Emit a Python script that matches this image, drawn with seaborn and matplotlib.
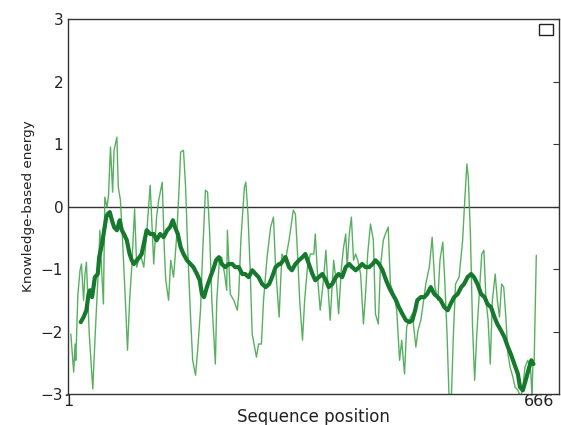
import pandas as pd
import matplotlib
matplotlib.use("Agg")
import matplotlib.pyplot as plt
from matplotlib.patches import Rectangle
import seaborn as sns

# window size 10 (thin line)
pos_w10 = [5, 9, 11, 12, 15, 18, 20, 23, 25, 27, 31, 35, 36, 39, 44, 46, 49, 51, 53, 56,
           58, 61, 64, 66, 70, 72, 75, 78, 82, 85, 88, 91, 95, 98, 103, 108, 112, 117, 122, 126,
           129, 134, 137, 139, 143, 146, 150, 154, 157, 160, 164, 167, 170, 174, 177, 181, 184, 188, 191, 195,
           198, 201, 204, 209, 211, 215, 218, 222, 225, 226, 230, 235, 240, 242, 245, 250, 252, 255, 258, 261,
           267, 270, 274, 277, 282, 287, 291, 294, 299, 301,
           303, 308, 313, 319, 322, 325, 328, 332, 335, 339, 343, 348, 350, 354, 357, 361, 365, 368, 371, 374,
           376, 380, 383, 387, 390, 393, 395, 398, 401, 404, 407, 410, 414, 418, 421, 424, 428, 432, 435, 439,
           442, 446, 449, 453, 456, 461, 465, 469, 472, 476, 479, 482, 487, 492, 495, 499, 503, 506, 511, 515,
           519, 523, 526, 530, 533, 536, 539, 542, 545, 548, 553, 558, 561, 564, 566, 569, 572, 575, 578, 581,
           585, 588, 591, 594, 597, 600, 604, 607, 610, 613, 616, 619, 622, 625, 629, 632, 636, 640, 643, 646,
           650, 654, 656, 657, 659, 662]
energy_w10 = [-2.04, -2.65, -2.20, -2.46, -1.40, -1.02, -0.92, -1.50, -1.08, -0.89, -2.04, -2.73, -2.92, -2.14, -0.97, -0.38, -1.13, -1.56, 0.15, -0.01,
              0.15, 0.95, 0.23, 0.90, 1.11, 0.31, 0.10, -0.54, -1.50, -2.30, -1.50, -0.97, -0.04, -0.97, -0.76, -0.97, -0.44, 0.34, -0.92, -0.17,
              0.10, 0.39, -0.70, -1.18, -1.50, -0.86, -1.13, -0.54, 0.10, 0.87, 0.90, 0.31, -0.70, -1.77, -2.46, -2.70, -2.30, -1.66, -0.76, 0.26,
              0.23, -0.44, -1.50, -2.52, -1.50, -0.81, -0.81, -1.08, -1.34, -0.38, -1.40, -1.50, -1.66, -1.40, -0.54, 0.31, 0.39, -0.12, -0.97, -2.04,
              -2.41, -2.20, -2.20, -1.50, -0.81, -0.33, -0.17, -0.97, -1.77, -1.24,
              -0.76, -0.86, -0.54, -0.06, -0.12, -0.76, -1.50, -2.14, -1.50, -0.97, -0.76, -0.76, -0.44, -1.24, -1.66, -1.24, -0.70, -1.29, -1.82, -1.24,
              -0.86, -1.24, -1.72, -0.97, -0.65, -0.44, -0.97, -0.44, -0.17, -0.86, -0.76, -0.86, -1.08, -1.88, -1.40, -0.76, -0.28, -0.54, -1.72, -1.88,
              -0.97, -0.54, -0.44, -0.33, -1.24, -1.40, -1.66, -2.46, -2.14, -2.68, -1.93, -1.82, -1.72, -2.25, -1.98, -1.82, -1.50, -1.24, -0.97, -0.49,
              -1.29, -1.50, -0.86, -0.57, -1.24, -2.04, -3.10, -3.10, -2.04, -1.24, -1.13, -0.54, 0.10, 0.68, 0.47, -0.44, -1.93, -2.78, -2.04, -1.50,
              -0.76, -0.70, -1.50, -1.82, -2.52, -1.50, -1.08, -1.50, -1.77, -1.24, -1.29, -1.77, -2.36, -2.57, -2.73, -2.89, -2.94, -3.05, -2.89, -2.57,
              -2.46, -2.62, -3.05, -2.57, -2.46, -0.78]

# window size 40 (thick line)
pos_w40 = [19, 23, 27, 30, 32, 35, 37, 39, 43, 45, 49, 52, 55, 57, 60, 63, 66, 70, 74, 77,
           80, 84, 88, 91, 94, 98, 102, 105, 109, 112, 117, 122, 126, 131, 136, 141, 145, 149, 152, 156,
           160, 164, 169, 174, 178, 183, 187, 190, 193, 197, 202, 207, 210, 214, 218, 223, 228, 233, 237, 242,
           247, 251, 256, 261, 266, 270, 275, 280, 285, 289, 294, 299,
           301, 308, 313, 317, 322, 327, 332, 336, 341, 346, 350, 355, 360, 365, 369, 374, 379, 383, 388, 393,
           398, 402, 407, 412, 416, 421, 426, 431, 435, 440, 445, 450, 454, 459, 464, 468, 473, 478, 483, 487,
           491, 494, 499, 504, 508, 513, 518, 523, 527, 532, 537, 541, 546, 551, 556, 560, 565, 570, 574, 579,
           584, 589, 593, 598, 603, 607, 612, 617, 622, 626, 631, 636, 639, 643, 647, 652, 655, 658]
energy_w40 = [-1.85, -1.77, -1.66, -1.40, -1.34, -1.45, -1.29, -1.13, -1.08, -0.81, -0.60, -0.38, -0.17, -0.12, -0.09, -0.22, -0.33, -0.38, -0.22, -0.38,
              -0.44, -0.54, -0.76, -0.86, -0.92, -0.86, -0.81, -0.76, -0.54, -0.38, -0.44, -0.44, -0.54, -0.44, -0.49, -0.38, -0.33, -0.22, -0.33, -0.44,
              -0.65, -0.76, -0.86, -0.92, -0.97, -1.08, -1.18, -1.40, -1.45, -1.29, -1.13, -0.97, -0.86, -0.81, -0.92, -0.97, -0.92, -0.92, -0.97, -0.97,
              -1.08, -1.08, -1.13, -1.02, -1.08, -1.13, -1.24, -1.29, -1.24, -1.13, -0.97, -0.92,
              -0.92, -0.81, -0.97, -1.02, -0.92, -0.86, -0.81, -0.76, -0.92, -1.08, -1.18, -1.13, -1.08, -1.18, -1.29, -1.24, -1.13, -1.08, -1.13, -0.97,
              -0.92, -0.97, -1.02, -0.97, -0.92, -0.97, -0.97, -0.92, -0.86, -0.92, -1.02, -1.18, -1.29, -1.40, -1.50, -1.61, -1.72, -1.82, -1.85, -1.82,
              -1.66, -1.50, -1.45, -1.45, -1.40, -1.29, -1.40, -1.45, -1.50, -1.61, -1.66, -1.56, -1.45, -1.40, -1.29, -1.24, -1.13, -1.08, -1.13, -1.24,
              -1.40, -1.45, -1.56, -1.61, -1.77, -1.88, -1.98, -2.09, -2.25, -2.36, -2.52, -2.68, -2.89, -2.94, -2.78, -2.57, -2.46, -2.52]

x_ticks = [1, 666]
y_ticks = [-3, -2, -1, 0, 1, 2, 3]

thin = pd.DataFrame({"pos": pos_w10, "energy": energy_w10})
thick = pd.DataFrame({"pos": pos_w40, "energy": energy_w40})

sns.set_style("white")
fig = plt.figure(figsize=(5.61, 4.25), dpi=100)
ax = fig.add_axes([0.1212, 0.0729, 0.8752, 0.8824])

ax.axhline(0, color="#333333", lw=1.0, zorder=1)
sns.lineplot(data=thin, x="pos", y="energy", ax=ax, estimator=None,
             color="#45a84f", lw=1.0, alpha=0.9, zorder=2)
sns.lineplot(data=thick, x="pos", y="energy", ax=ax, estimator=None,
             color="#17792d", lw=3.0, zorder=3)

ax.set_xlim(1, 694)
ax.set_ylim(-3, 3)
ax.set_xticks(x_ticks)
ax.set_yticks(y_ticks)
ax.set_xticklabels([str(t) for t in x_ticks])
ax.set_yticklabels(["\u2212" + str(-t) if t < 0 else str(t) for t in y_ticks])
ax.tick_params(direction="in", length=4, width=0.8, colors="#333333",
               top=False, right=True, labelsize=11, labelcolor="#222222")
ax.tick_params(axis="x", labelsize=11.5, pad=0)
for s in ax.spines.values():
    s.set_color("#333333")
    s.set_linewidth(1.0)

ax.set_xlabel("Sequence position", fontsize=12, color="#222222", labelpad=-1)
ax.set_ylabel("Knowledge-based energy", fontsize=9.7, color="#222222", labelpad=4)

# empty legend frame in the top right corner
ax.add_patch(Rectangle((0.959, 0.957), 0.0285, 0.0293, transform=ax.transAxes,
                       fill=False, edgecolor="#222222", lw=1.0, zorder=5))

fig.savefig("out.png", dpi=100)
